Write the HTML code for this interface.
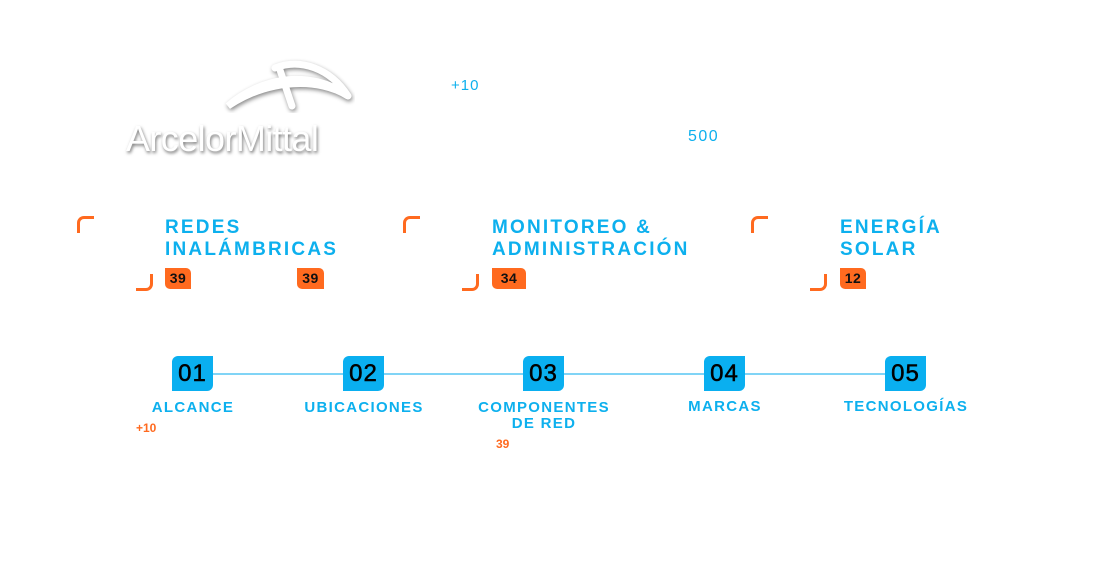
<!DOCTYPE html>
<html><head><meta charset="utf-8"><style>
body{margin:0;width:1098px;height:563px;background:#fff;position:relative;overflow:hidden;font-family:"Liberation Sans",sans-serif}
.a{position:absolute}
.t{color:#0db0ee;font-weight:bold;font-size:19px;line-height:22px;letter-spacing:2.2px}
.tl{width:14px;height:14px;border-top:3px solid #ff6a1f;border-left:3px solid #ff6a1f;border-top-left-radius:7px}
.br{width:14px;height:14px;border-bottom:3px solid #ff6a1f;border-right:3px solid #ff6a1f;border-bottom-right-radius:7px}
.bd{background:#ff6a1f;color:#111;font-weight:bold;font-size:14px;height:21px;line-height:21px;text-align:center;border-radius:0 5px 0 5px;letter-spacing:.5px}
.bx{background:#0aaff0;color:#000;font-size:24px;width:41px;height:35px;line-height:35px;text-align:center;border-radius:6px 0 6px 0;top:356px;letter-spacing:1px;-webkit-text-stroke:.5px #000}
.lb{color:#0db0ee;font-weight:bold;font-size:15px;line-height:16px;text-align:center;width:200px;letter-spacing:1.3px}
.o{color:#ff6a1f;font-weight:bold;font-size:12px}
</style></head><body>
<svg class="a" style="left:220px;top:58px" width="135" height="55"><path d="M8 48 C40 20 90 10 128 38 C100 20 50 20 8 48Z M55 10 C80 0 110 10 128 38 M60 12 L72 48" fill="none" stroke="#fff" stroke-width="7" stroke-linecap="round" style="filter:drop-shadow(1px 2px 2px #888)"/></svg>
<div class="a" style="left:126px;top:118px;font-size:36px;color:#fff;text-shadow:1px 2px 3px #777;letter-spacing:-0.6px">ArcelorMittal</div>
<div class="a" style="left:451px;top:77px;color:#0db0ee;font-size:15px;letter-spacing:1px">+10</div>
<div class="a" style="left:688px;top:128px;color:#0db0ee;font-size:16px;letter-spacing:1.5px">500</div>

<div class="a tl" style="left:77px;top:216px"></div><div class="a br" style="left:136px;top:274px"></div>
<div class="a t" style="left:165px;top:217px">REDES<br>INALÁMBRICAS</div>
<div class="a bd" style="left:165px;top:268px;width:26px">39</div>
<div class="a bd" style="left:297px;top:268px;width:27px">39</div>

<div class="a tl" style="left:403px;top:216px"></div><div class="a br" style="left:462px;top:274px"></div>
<div class="a t" style="left:492px;top:217px">MONITOREO &amp;<br>ADMINISTRACIÓN</div>
<div class="a bd" style="left:492px;top:268px;width:34px">34</div>

<div class="a tl" style="left:751px;top:216px"></div><div class="a br" style="left:810px;top:274px"></div>
<div class="a t" style="left:840px;top:217px">ENERGÍA<br>SOLAR</div>
<div class="a bd" style="left:840px;top:268px;width:26px">12</div>

<div class="a" style="left:213px;top:373px;width:672px;height:2px;background:#80d4f6"></div>
<div class="a bx" style="left:172px">01</div>
<div class="a bx" style="left:343px">02</div>
<div class="a bx" style="left:523px">03</div>
<div class="a bx" style="left:704px">04</div>
<div class="a bx" style="left:885px">05</div>
<div class="a lb" style="left:93px;top:400px">ALCANCE</div>
<div class="a lb" style="left:264px;top:400px">UBICACIONES</div>
<div class="a lb" style="left:444px;top:400px">COMPONENTES<br>DE RED</div>
<div class="a lb" style="left:625px;top:399px">MARCAS</div>
<div class="a lb" style="left:806px;top:399px">TECNOLOGÍAS</div>
<div class="a o" style="left:136px;top:421px">+10</div>
<div class="a o" style="left:496px;top:437px">39</div>
</body></html>
